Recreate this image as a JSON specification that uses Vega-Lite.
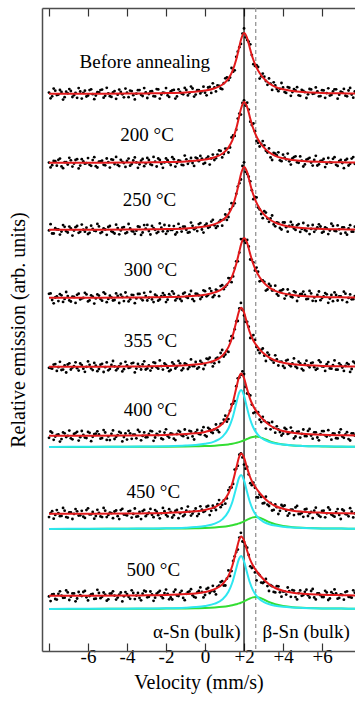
{
"$schema":"https://vega.github.io/schema/vega-lite/v6.json",
"width":313,"height":643,
"autosize":{"type":"none"},
"padding":{"left":42,"top":8,"right":0,"bottom":53},
"config":{"view":{"stroke":null},"font":"Liberation Serif, Times New Roman, Times, DejaVu Serif, serif",
 "axis":{"grid":false,"domainColor":"#4d4d4d","domainWidth":1.5,"tickColor":"#333333","tickWidth":1.2,"labelColor":"#000000","titleColor":"#000000","labelFont":"Liberation Serif, Times New Roman, Times, DejaVu Serif, serif","titleFont":"Liberation Serif, Times New Roman, Times, DejaVu Serif, serif","titleFontWeight":"normal"}},
"datasets":{
"refs":[{"v":2.0,"line":"alpha"},{"v":2.6,"line":"beta"}],
"labels":[{"t":"Before annealing","v":-3.09,"y":58.9},{"t":"200 °C","v":-2.97,"y":51.6},{"t":"250 °C","v":-2.85,"y":45.1},{"t":"300 °C","v":-2.8,"y":38.1},{"t":"355 °C","v":-2.8,"y":31.0},{"t":"400 °C","v":-2.8,"y":24.1},{"t":"450 °C","v":-2.65,"y":15.9},{"t":"500 °C","v":-2.65,"y":8.1},{"t":"α-Sn (bulk)","v":-0.42,"y":1.9},{"t":"β-Sn (bulk)","v":5.19,"y":1.9}],
"pts":[
{"v":-8,"a":55.84,"b":48.84,"c":42.06,"d":35.72,"e":28.32,"f":21.32,"g":13.39,"h":5.46},
{"v":-7.84,"a":55.47,"b":48.58,"c":41.75,"d":35.10,"e":28.23,"f":21.83,"g":13.98,"h":5.67},
{"v":-7.68,"a":56.03,"b":48.98,"c":42.28,"d":35.35,"e":28.69,"f":21.44,"g":13.61,"h":5.20},
{"v":-7.52,"a":55.64,"b":49.12,"c":42.15,"d":34.99,"e":28.38,"f":21.66,"g":13.79,"h":5.72},
{"v":-7.36,"a":55.90,"b":48.46,"c":41.94,"d":35.57,"e":28.10,"f":21.19,"g":13.51,"h":5.53},
{"v":-7.2,"a":55.38,"b":48.89,"c":42.42,"d":35.21,"e":28.56,"f":21.77,"g":14.03,"h":5.33},
{"v":-7.04,"a":55.77,"b":48.64,"c":41.85,"d":35.49,"e":28.65,"f":21.51,"g":13.34,"h":5.86},
{"v":-6.88,"a":56.00,"b":49.07,"c":42.25,"d":34.95,"e":28.15,"f":21.27,"g":13.86,"h":5.43},
{"v":-6.72,"a":55.58,"b":48.74,"c":42.04,"d":35.41,"e":28.49,"f":21.70,"g":13.71,"h":5.76},
{"v":-6.56,"a":55.32,"b":49.18,"c":42.50,"d":35.62,"e":28.28,"f":21.92,"g":13.97,"h":5.25},
{"v":-6.4,"a":55.95,"b":48.54,"c":41.92,"d":35.16,"e":28.75,"f":21.38,"g":13.57,"h":5.59},
{"v":-6.24,"a":55.82,"b":48.96,"c":42.13,"d":35.31,"e":28.23,"f":21.61,"g":13.43,"h":5.90},
{"v":-6.08,"a":55.45,"b":48.79,"c":42.33,"d":35.66,"e":28.42,"f":21.29,"g":14.09,"h":5.37},
{"v":-5.92,"a":56.09,"b":48.62,"c":41.82,"d":35.07,"e":28.62,"f":21.82,"g":13.66,"h":5.50},
{"v":-5.76,"a":55.68,"b":49.09,"c":42.21,"d":35.44,"e":28.09,"f":21.42,"g":13.91,"h":5.71},
{"v":-5.6,"a":55.54,"b":48.48,"c":41.99,"d":35.26,"e":28.53,"f":21.73,"g":13.49,"h":5.23},
{"v":-5.44,"a":55.87,"b":48.93,"c":42.46,"d":35.54,"e":28.20,"f":21.65,"g":13.82,"h":5.80},
{"v":-5.28,"a":56.14,"b":49.03,"c":41.89,"d":35.03,"e":28.72,"f":21.29,"g":13.39,"h":5.42},
{"v":-5.12,"a":55.52,"b":48.57,"c":42.15,"d":35.72,"e":28.38,"f":21.85,"g":14.03,"h":5.63},
{"v":-4.96,"a":55.77,"b":48.88,"c":42.40,"d":35.21,"e":28.07,"f":21.46,"g":13.61,"h":5.17},
{"v":-4.8,"a":55.41,"b":49.16,"c":41.97,"d":35.36,"e":28.60,"f":21.72,"g":13.78,"h":5.75},
{"v":-4.64,"a":55.99,"b":48.70,"c":41.75,"d":35.10,"e":28.47,"f":21.20,"g":13.95,"h":5.54},
{"v":-4.48,"a":55.63,"b":48.61,"c":42.29,"d":35.50,"e":28.26,"f":21.59,"g":13.48,"h":5.34},
{"v":-4.32,"a":55.91,"b":49.12,"c":42.06,"d":35.64,"e":28.74,"f":21.81,"g":14.09,"h":5.85},
{"v":-4.16,"a":55.37,"b":48.79,"c":42.39,"d":34.99,"e":28.18,"f":21.40,"g":13.65,"h":5.47},
{"v":-4,"a":55.83,"b":49.00,"c":41.86,"d":35.42,"e":28.57,"f":21.14,"g":13.56,"h":5.69},
{"v":-3.84,"a":56.04,"b":48.53,"c":42.26,"d":35.17,"e":28.36,"f":21.77,"g":14.02,"h":5.22},
{"v":-3.68,"a":55.58,"b":49.05,"c":41.95,"d":35.59,"e":28.82,"f":21.64,"g":13.71,"h":5.80},
{"v":-3.52,"a":55.73,"b":48.86,"c":42.03,"d":35.26,"e":28.24,"f":21.27,"g":13.43,"h":5.54},
{"v":-3.36,"a":56.09,"b":48.67,"c":42.41,"d":35.71,"e":28.46,"f":21.92,"g":13.90,"h":5.30},
{"v":-3.2,"a":55.50,"b":49.20,"c":41.85,"d":35.07,"e":28.66,"f":21.51,"g":13.99,"h":5.73},
{"v":-3.04,"a":55.87,"b":48.76,"c":42.24,"d":35.49,"e":28.15,"f":21.37,"g":13.48,"h":5.95},
{"v":-2.88,"a":55.70,"b":49.10,"c":41.99,"d":35.33,"e":28.55,"f":21.71,"g":13.83,"h":5.42},
{"v":-2.72,"a":55.98,"b":48.59,"c":42.51,"d":35.16,"e":28.33,"f":21.97,"g":13.62,"h":5.65},
{"v":-2.56,"a":55.46,"b":48.93,"c":42.12,"d":35.63,"e":28.80,"f":21.35,"g":14.09,"h":5.33},
{"v":-2.4,"a":56.16,"b":49.25,"c":41.91,"d":35.03,"e":28.23,"f":21.61,"g":13.58,"h":5.87},
{"v":-2.24,"a":55.65,"b":48.72,"c":42.33,"d":35.48,"e":28.49,"f":21.25,"g":13.77,"h":5.47},
{"v":-2.08,"a":55.81,"b":48.86,"c":42.60,"d":35.58,"e":28.75,"f":21.84,"g":13.98,"h":5.79},
{"v":-1.92,"a":55.56,"b":49.08,"c":41.98,"d":35.13,"e":28.33,"f":21.49,"g":13.46,"h":5.72},
{"v":-1.76,"a":55.96,"b":48.60,"c":42.11,"d":35.44,"e":28.11,"f":21.77,"g":13.90,"h":5.35},
{"v":-1.6,"a":56.11,"b":49.18,"c":42.49,"d":35.73,"e":28.66,"f":21.23,"g":13.58,"h":5.92},
{"v":-1.44,"a":55.46,"b":48.80,"c":41.86,"d":35.28,"e":28.44,"f":21.70,"g":14.10,"h":5.54},
{"v":-1.28,"a":55.90,"b":49.02,"c":42.28,"d":35.20,"e":28.77,"f":21.92,"g":13.77,"h":5.81},
{"v":-1.12,"a":55.67,"b":48.58,"c":42.44,"d":35.73,"e":28.26,"f":21.48,"g":13.48,"h":5.31},
{"v":-0.96,"a":56.10,"b":49.17,"c":42.12,"d":35.40,"e":28.68,"f":21.65,"g":14.03,"h":5.72},
{"v":-0.8,"a":55.79,"b":48.98,"c":41.88,"d":35.63,"e":28.39,"f":22.02,"g":13.92,"h":5.96},
{"v":-0.64,"a":56.25,"b":48.80,"c":42.52,"d":35.18,"e":28.50,"f":21.46,"g":13.74,"h":5.57},
{"v":-0.48,"a":55.64,"b":49.34,"c":42.30,"d":35.73,"e":28.90,"f":21.86,"g":14.25,"h":5.34},
{"v":-0.32,"a":56.09,"b":48.98,"c":42.69,"d":35.57,"e":28.37,"f":21.71,"g":13.71,"h":6.00},
{"v":-0.16,"a":55.96,"b":49.24,"c":42.15,"d":35.41,"e":28.80,"f":22.03,"g":14.14,"h":5.91},
{"v":0,"a":55.83,"b":48.81,"c":42.55,"d":35.98,"e":28.60,"f":21.57,"g":13.99,"h":5.60},
{"v":0.16,"a":56.35,"b":49.44,"c":42.32,"d":35.59,"e":29.18,"f":22.32,"g":14.51,"h":6.30},
{"v":0.32,"a":55.81,"b":49.25,"c":42.94,"d":35.99,"e":28.88,"f":21.90,"g":14.02,"h":5.98},
{"v":0.48,"a":56.35,"b":49.09,"c":42.57,"d":35.57,"e":28.77,"f":22.16,"g":14.34,"h":5.95},
{"v":0.64,"a":56.56,"b":49.64,"c":42.48,"d":36.03,"e":29.33,"f":22.08,"g":14.68,"h":6.42},
{"v":0.8,"a":56.25,"b":50.01,"c":43.09,"d":36.49,"e":29.80,"f":22.70,"g":14.38,"h":6.89},
{"v":0.96,"a":56.78,"b":49.69,"c":43.16,"d":36.18,"e":29.45,"f":23.13,"g":15.05,"h":6.55},
{"v":1.12,"a":57.36,"b":50.22,"c":43.11,"d":36.61,"e":30.01,"f":22.93,"g":15.26,"h":7.23},
{"v":1.28,"a":57.35,"b":50.35,"c":44.15,"d":37.27,"e":31.01,"f":24.02,"g":16.36,"h":7.50},
{"v":1.44,"a":57.93,"b":51.55,"c":44.52,"d":37.46,"e":31.30,"f":24.74,"g":16.71,"h":9.01},
{"v":1.6,"a":59.42,"b":52.13,"c":45.72,"d":38.97,"e":32.96,"f":26.48,"g":18.22,"h":9.90},
{"v":1.76,"a":60.38,"b":53.74,"c":46.78,"d":39.84,"e":34.26,"f":27.36,"g":19.63,"h":11.34},
{"v":1.92,"a":61.74,"b":54.81,"c":48.50,"d":41.18,"e":34.09,"f":27.97,"g":19.36,"h":10.95},
{"v":2.08,"a":61.37,"b":54.54,"c":47.92,"d":40.82,"e":32.92,"f":26.41,"g":18.23,"h":10.50},
{"v":2.24,"a":60.93,"b":54.14,"c":47.43,"d":40.45,"e":32.43,"f":25.68,"g":17.66,"h":9.60},
{"v":2.4,"a":59.59,"b":52.60,"c":46.08,"d":39.12,"e":31.33,"f":24.64,"g":16.58,"h":8.29},
{"v":2.56,"a":58.51,"b":51.98,"c":45.41,"d":38.05,"e":31.11,"f":23.87,"g":16.32,"h":7.86},
{"v":2.72,"a":58.40,"b":50.82,"c":44.34,"d":37.93,"e":30.09,"f":23.88,"g":15.35,"h":7.77},
{"v":2.88,"a":57.47,"b":50.72,"c":43.70,"d":37.06,"e":30.11,"f":22.89,"g":15.41,"h":6.84},
{"v":3.04,"a":57.43,"b":50.57,"c":43.98,"d":36.92,"e":29.53,"f":23.02,"g":14.80,"h":6.91},
{"v":3.2,"a":56.62,"b":49.85,"c":43.24,"d":36.15,"e":29.84,"f":22.84,"g":14.64,"h":6.49},
{"v":3.36,"a":56.73,"b":49.36,"c":43.26,"d":36.51,"e":29.19,"f":22.17,"g":14.82,"h":6.58},
{"v":3.52,"a":56.87,"b":49.82,"c":42.66,"d":36.08,"e":28.83,"f":22.32,"g":14.11,"h":5.91},
{"v":3.68,"a":56.20,"b":49.55,"c":42.85,"d":35.69,"e":29.17,"f":22.47,"g":14.38,"h":6.48},
{"v":3.84,"a":56.22,"b":49.07,"c":42.30,"d":36.02,"e":28.92,"f":21.90,"g":14.02,"h":5.87},
{"v":4,"a":56.35,"b":49.63,"c":42.86,"d":36.16,"e":28.50,"f":21.73,"g":14.47,"h":5.95},
{"v":4.16,"a":55.81,"b":49.16,"c":42.38,"d":35.56,"e":29.04,"f":22.18,"g":14.03,"h":5.64},
{"v":4.32,"a":56.33,"b":48.97,"c":42.50,"d":35.74,"e":28.62,"f":21.79,"g":13.76,"h":5.99},
{"v":4.48,"a":55.89,"b":49.25,"c":42.62,"d":35.37,"e":28.76,"f":21.96,"g":14.14,"h":6.09},
{"v":4.64,"a":56.06,"b":49.47,"c":42.11,"d":35.86,"e":28.44,"f":21.45,"g":14.36,"h":5.39},
{"v":4.8,"a":55.57,"b":48.82,"c":42.69,"d":35.43,"e":28.93,"f":21.94,"g":13.70,"h":5.79},
{"v":4.96,"a":56.12,"b":49.04,"c":42.21,"d":35.71,"e":28.22,"f":21.72,"g":13.81,"h":5.52},
{"v":5.12,"a":55.89,"b":48.66,"c":42.10,"d":35.61,"e":28.71,"f":21.50,"g":14.16,"h":5.92},
{"v":5.28,"a":55.67,"b":49.22,"c":42.54,"d":35.22,"e":28.54,"f":22.01,"g":13.50,"h":5.57},
{"v":5.44,"a":56.16,"b":48.84,"c":42.21,"d":35.76,"e":28.79,"f":21.55,"g":13.90,"h":6.00},
{"v":5.6,"a":55.76,"b":49.11,"c":41.92,"d":35.36,"e":28.38,"f":21.87,"g":14.03,"h":5.35},
{"v":5.76,"a":55.97,"b":48.55,"c":42.37,"d":35.61,"e":28.23,"f":21.35,"g":13.69,"h":5.76},
{"v":5.92,"a":55.49,"b":49.00,"c":42.45,"d":35.08,"e":28.88,"f":21.68,"g":13.42,"h":5.58},
{"v":6.08,"a":56.06,"b":49.20,"c":41.93,"d":35.46,"e":28.44,"f":21.98,"g":14.03,"h":5.40},
{"v":6.24,"a":55.79,"b":48.73,"c":42.26,"d":35.67,"e":28.68,"f":21.44,"g":13.77,"h":5.86},
{"v":6.4,"a":55.54,"b":48.88,"c":42.05,"d":35.25,"e":28.26,"f":21.57,"g":14.13,"h":5.25},
{"v":6.56,"a":55.96,"b":49.22,"c":42.51,"d":34.98,"e":28.58,"f":21.77,"g":13.54,"h":5.69},
{"v":6.72,"a":56.17,"b":48.62,"c":41.98,"d":35.60,"e":28.13,"f":21.28,"g":13.89,"h":5.77},
{"v":6.88,"a":55.63,"b":48.99,"c":42.17,"d":35.47,"e":28.77,"f":21.85,"g":13.61,"h":5.31},
{"v":7.04,"a":55.85,"b":48.80,"c":42.36,"d":35.09,"e":28.34,"f":21.45,"g":14.15,"h":5.61},
{"v":7.2,"a":55.53,"b":49.08,"c":41.83,"d":35.73,"e":28.51,"f":21.66,"g":13.69,"h":5.89},
{"v":7.36,"a":56.05,"b":48.55,"c":42.26,"d":35.31,"e":28.67,"f":21.19,"g":13.47,"h":5.42},
{"v":7.52,"a":55.65,"b":49.24,"c":41.93,"d":35.17,"e":28.20,"f":21.77,"g":13.93,"h":5.33},
{"v":7.68,"a":55.95,"b":48.72,"c":42.43,"d":35.49,"e":28.80,"f":21.55,"g":13.77,"h":5.83},
{"v":-7.92,"a":55.27,"b":48.36,"c":42.68,"d":35.76,"e":28.29,"f":21.95,"g":13.79,"h":4.99},
{"v":-7.76,"a":56.24,"b":49.01,"c":41.75,"d":34.77,"e":28.64,"f":21.12,"g":13.23,"h":5.69},
{"v":-7.6,"a":55.60,"b":48.53,"c":42.16,"d":35.47,"e":28.01,"f":21.62,"g":14.09,"h":5.14},
{"v":-7.44,"a":56.10,"b":49.24,"c":41.64,"d":35.68,"e":28.92,"f":20.94,"g":13.48,"h":5.97},
{"v":-7.28,"a":55.14,"b":48.28,"c":42.59,"d":34.91,"e":28.14,"f":21.86,"g":14.31,"h":5.32},
{"v":-7.12,"a":55.93,"b":48.88,"c":41.98,"d":35.90,"e":27.85,"f":21.39,"g":13.39,"h":6.06},
{"v":-6.96,"a":56.19,"b":49.32,"c":42.44,"d":35.06,"e":28.77,"f":22.04,"g":13.86,"h":5.10},
{"v":-6.8,"a":55.40,"b":48.44,"c":41.54,"d":35.44,"e":28.35,"f":21.17,"g":13.20,"h":5.76},
{"v":-6.64,"a":55.82,"b":49.10,"c":42.38,"d":34.81,"e":28.87,"f":21.79,"g":14.19,"h":4.97},
{"v":-6.48,"a":56.29,"b":48.26,"c":41.82,"d":35.73,"e":28.04,"f":21.04,"g":13.54,"h":5.90},
{"v":-6.32,"a":55.24,"b":49.18,"c":42.64,"d":35.26,"e":28.59,"f":22.00,"g":14.02,"h":5.49},
{"v":-6.16,"a":56.03,"b":48.73,"c":41.93,"d":35.82,"e":27.92,"f":21.34,"g":13.31,"h":6.01},
{"v":-6.0,"a":55.55,"b":49.29,"c":41.70,"d":34.96,"e":28.96,"f":21.91,"g":14.27,"h":5.06},
{"v":-5.84,"a":56.17,"b":48.52,"c":42.53,"d":35.57,"e":28.26,"f":20.98,"g":13.67,"h":5.67},
{"v":-5.68,"a":55.18,"b":49.38,"c":42.03,"d":34.74,"e":28.81,"f":21.69,"g":13.23,"h":5.21},
{"v":-5.52,"a":55.88,"b":48.35,"c":42.71,"d":35.66,"e":27.98,"f":21.97,"g":14.12,"h":6.12},
{"v":-5.36,"a":56.09,"b":48.96,"c":41.79,"d":35.19,"e":28.63,"f":21.23,"g":13.46,"h":5.28},
{"v":-5.2,"a":55.33,"b":48.62,"c":42.27,"d":35.87,"e":27.90,"f":22.09,"g":14.31,"h":5.85},
{"v":-5.04,"a":56.32,"b":49.25,"c":41.62,"d":34.88,"e":28.86,"f":21.11,"g":13.39,"h":5.03},
{"v":-4.88,"a":55.48,"b":48.34,"c":42.50,"d":35.53,"e":28.21,"f":21.09,"g":13.84,"h":5.74},
{"v":-4.72,"a":55.85,"b":49.12,"c":41.88,"d":35.05,"e":29.00,"f":22.06,"g":13.28,"h":5.97},
{"v":-4.56,"a":55.22,"b":49.41,"c":42.63,"d":35.76,"e":28.07,"f":21.42,"g":14.05,"h":5.14},
{"v":-4.4,"a":56.14,"b":48.49,"c":41.67,"d":34.80,"e":28.48,"f":21.92,"g":13.19,"h":5.64},
{"v":-4.24,"a":55.67,"b":48.92,"c":42.33,"d":35.40,"e":27.96,"f":20.96,"g":14.22,"h":4.96},
{"v":-4.08,"a":56.24,"b":48.41,"c":41.77,"d":35.85,"e":28.92,"f":21.76,"g":13.62,"h":5.89},
{"v":-3.92,"a":55.38,"b":49.24,"c":42.70,"d":34.96,"e":28.31,"f":22.02,"g":13.97,"h":5.42},
{"v":-3.76,"a":55.99,"b":48.69,"c":41.99,"d":35.62,"e":28.77,"f":21.22,"g":13.34,"h":6.07},
{"v":-3.6,"a":55.16,"b":49.36,"c":41.71,"d":34.78,"e":27.86,"f":21.64,"g":14.25,"h":5.19},
{"v":-3.44,"a":56.08,"b":48.32,"c":42.45,"d":35.70,"e":28.70,"f":22.11,"g":13.47,"h":5.81},
{"v":-3.28,"a":55.62,"b":49.03,"c":41.61,"d":35.26,"e":28.15,"f":21.07,"g":13.19,"h":5.07},
{"v":-3.12,"a":56.29,"b":48.48,"c":42.59,"d":35.82,"e":28.97,"f":21.86,"g":14.11,"h":6.03},
{"v":-2.96,"a":55.30,"b":49.31,"c":42.61,"d":35.05,"e":28.26,"f":21.38,"g":13.68,"h":5.37},
{"v":-2.8,"a":55.96,"b":48.67,"c":41.65,"d":35.92,"e":28.04,"f":22.01,"g":14.21,"h":5.95},
{"v":-2.64,"a":55.48,"b":49.41,"c":42.29,"d":34.89,"e":28.87,"f":21.02,"g":13.38,"h":5.02},
{"v":-2.48,"a":56.19,"b":48.45,"c":41.79,"d":35.50,"e":28.37,"f":21.72,"g":13.93,"h":5.73},
{"v":-2.32,"a":55.24,"b":49.11,"c":42.76,"d":35.16,"e":29.06,"f":21.94,"g":13.27,"h":6.02},
{"v":-2.16,"a":55.84,"b":48.32,"c":41.97,"d":35.79,"e":28.14,"f":21.17,"g":14.31,"h":5.28},
{"v":-2.0,"a":56.29,"b":49.26,"c":41.72,"d":34.89,"e":28.62,"f":22.17,"g":13.62,"h":6.14},
{"v":-1.84,"a":55.41,"b":48.86,"c":42.53,"d":35.68,"e":27.98,"f":21.34,"g":14.18,"h":5.17},
{"v":-1.68,"a":56.07,"b":49.38,"c":42.11,"d":35.97,"e":28.86,"f":21.71,"g":13.35,"h":5.15},
{"v":-1.52,"a":55.24,"b":48.44,"c":41.65,"d":35.06,"e":28.25,"f":21.09,"g":14.01,"h":6.13},
{"v":-1.36,"a":56.17,"b":49.06,"c":42.71,"d":35.50,"e":29.01,"f":22.02,"g":13.28,"h":5.50},
{"v":-1.2,"a":55.74,"b":48.62,"c":41.94,"d":35.00,"e":28.07,"f":21.57,"g":14.26,"h":6.02},
{"v":-1.04,"a":56.31,"b":49.54,"c":42.43,"d":35.84,"e":28.75,"f":22.15,"g":13.63,"h":5.08},
{"v":-0.88,"a":55.56,"b":48.72,"c":41.83,"d":35.31,"e":28.20,"f":21.31,"g":14.44,"h":5.89},
{"v":-0.72,"a":56.44,"b":49.30,"c":42.84,"d":36.00,"e":29.16,"f":21.95,"g":13.54,"h":6.18},
{"v":-0.56,"a":55.44,"b":48.51,"c":42.17,"d":34.99,"e":28.48,"f":21.15,"g":13.98,"h":5.41},
{"v":-0.4,"a":56.08,"b":49.25,"c":41.99,"d":35.72,"e":28.23,"f":22.10,"g":13.49,"h":5.86},
{"v":-0.24,"a":55.76,"b":49.51,"c":42.79,"d":35.20,"e":29.00,"f":21.66,"g":14.47,"h":6.36},
{"v":-0.08,"a":56.43,"b":48.72,"c":41.84,"d":36.07,"e":28.20,"f":22.38,"g":13.91,"h":5.36},
{"v":0.08,"a":55.57,"b":49.27,"c":42.73,"d":35.47,"e":29.24,"f":21.45,"g":14.43,"h":6.21},
{"v":0.24,"a":56.40,"b":48.64,"c":42.41,"d":36.26,"e":29.33,"f":22.18,"g":13.59,"h":5.80},
{"v":0.4,"a":56.77,"b":49.64,"c":43.12,"d":35.38,"e":28.46,"f":21.80,"g":14.53,"h":6.52},
{"v":0.56,"a":55.96,"b":49.28,"c":42.31,"d":36.14,"e":29.23,"f":22.65,"g":14.10,"h":5.66},
{"v":0.72,"a":56.52,"b":50.06,"c":42.91,"d":35.48,"e":28.90,"f":21.88,"g":15.09,"h":6.53},
{"v":0.88,"a":56.18,"b":49.36,"c":42.53,"d":36.58,"e":30.10,"f":22.74,"g":14.62,"h":6.98},
{"v":1.04,"a":57.27,"b":50.24,"c":43.65,"d":36.42,"e":29.65,"f":23.53,"g":14.73,"h":6.55},
{"v":1.2,"a":57.08,"b":49.85,"c":43.40,"d":37.29,"e":29.91,"f":23.19,"g":16.08,"h":8.06},
{"v":1.36,"a":58.30,"b":51.36,"c":44.78,"d":36.88,"e":31.48,"f":24.66,"g":16.35,"h":7.99},
{"v":1.52,"a":58.07,"b":51.51,"c":44.77,"d":38.29,"e":32.17,"f":24.98,"g":18.14,"h":9.47},
{"v":1.68,"a":59.93,"b":53.24,"c":46.44,"d":38.97,"e":33.00,"f":27.27,"g":18.52,"h":10.14},
{"v":1.84,"a":60.71,"b":53.64,"c":47.15,"d":41.19,"e":34.81,"f":27.62,"g":19.75,"h":11.82},
{"v":2.0,"a":62.26,"b":55.07,"c":48.87,"d":41.06,"e":33.56,"f":27.69,"g":18.64,"h":10.89},
{"v":2.16,"a":61.09,"b":54.83,"c":47.69,"d":41.11,"e":32.92,"f":25.75,"g":18.40,"h":10.33},
{"v":2.32,"a":60.67,"b":52.93,"c":46.97,"d":39.15,"e":31.30,"f":25.56,"g":16.78,"h":8.47},
{"v":2.48,"a":58.68,"b":52.75,"c":45.18,"d":38.85,"e":31.59,"f":23.79,"g":16.83,"h":8.38},
{"v":2.64,"a":58.58,"b":51.02,"c":45.36,"d":38.34,"e":30.40,"f":23.89,"g":15.38,"h":7.06},
{"v":2.8,"a":57.24,"b":50.45,"c":44.16,"d":36.97,"e":29.80,"f":23.13,"g":15.65,"h":7.59},
{"v":2.96,"a":57.74,"b":50.99,"c":43.28,"d":37.05,"e":30.25,"f":23.42,"g":14.76,"h":6.80},
{"v":3.12,"a":57.00,"b":50.02,"c":43.84,"d":36.04,"e":29.00,"f":22.24,"g":15.43,"h":7.21},
{"v":3.28,"a":57.26,"b":50.26,"c":42.92,"d":36.71,"e":29.62,"f":22.79,"g":14.50,"h":6.00},
{"v":3.44,"a":56.11,"b":49.10,"c":43.55,"d":36.04,"e":29.08,"f":22.90,"g":14.05,"h":6.48},
{"v":3.6,"a":56.56,"b":49.73,"c":42.47,"d":36.53,"e":29.57,"f":21.83,"g":14.65,"h":5.86},
{"v":3.76,"a":55.98,"b":49.87,"c":42.80,"d":35.53,"e":28.55,"f":22.16,"g":13.70,"h":6.47},
{"v":3.92,"a":56.80,"b":48.98,"c":42.15,"d":36.06,"e":28.94,"f":21.55,"g":14.60,"h":5.43},
{"v":4.08,"a":55.89,"b":49.33,"c":42.85,"d":35.24,"e":28.31,"f":22.31,"g":14.55,"h":5.96},
{"v":4.24,"a":56.39,"b":49.74,"c":41.93,"d":36.15,"e":29.12,"f":21.71,"g":13.53,"h":6.35},
{"v":4.4,"a":55.52,"b":48.64,"c":42.91,"d":35.44,"e":28.47,"f":22.34,"g":14.13,"h":5.42},
{"v":4.56,"a":56.19,"b":49.39,"c":42.26,"d":35.97,"e":29.26,"f":21.26,"g":13.59,"h":6.04},
{"v":4.72,"a":56.38,"b":48.87,"c":42.57,"d":35.00,"e":28.30,"f":21.92,"g":14.51,"h":5.16},
{"v":4.88,"a":55.52,"b":49.46,"c":41.91,"d":35.68,"e":28.75,"f":21.34,"g":13.70,"h":6.06},
{"v":5.04,"a":56.00,"b":48.45,"c":42.80,"d":35.94,"e":28.06,"f":22.15,"g":13.42,"h":5.59},
{"v":5.2,"a":55.30,"b":49.13,"c":42.00,"d":35.18,"e":29.03,"f":21.48,"g":14.20,"h":6.13},
{"v":5.36,"a":56.20,"b":49.32,"c":41.69,"d":36.01,"e":28.37,"f":22.20,"g":13.77,"h":5.35},
{"v":5.52,"a":55.72,"b":48.54,"c":42.60,"d":35.02,"e":28.84,"f":21.23,"g":13.29,"h":6.20},
{"v":5.68,"a":56.36,"b":49.52,"c":42.16,"d":34.99,"e":28.12,"f":21.87,"g":14.33,"h":5.16},
{"v":5.84,"a":55.47,"b":48.67,"c":42.67,"d":35.95,"e":29.07,"f":21.07,"g":13.53,"h":5.76},
{"v":6.0,"a":56.08,"b":49.03,"c":41.83,"d":35.30,"e":28.46,"f":21.99,"g":14.00,"h":5.40},
{"v":6.16,"a":55.32,"b":48.39,"c":42.37,"d":35.79,"e":28.01,"f":21.57,"g":13.37,"h":6.02},
{"v":6.32,"a":56.27,"b":49.30,"c":41.69,"d":34.82,"e":28.89,"f":22.08,"g":14.35,"h":5.10},
{"v":6.48,"a":55.61,"b":48.83,"c":42.73,"d":35.61,"e":28.23,"f":21.13,"g":13.65,"h":5.88},
{"v":6.64,"a":56.17,"b":49.38,"c":42.02,"d":35.86,"e":29.06,"f":21.73,"g":13.43,"h":6.16},
{"v":6.8,"a":55.23,"b":48.51,"c":42.56,"d":35.05,"e":28.13,"f":21.26,"g":14.19,"h":5.23},
{"v":6.96,"a":55.94,"b":49.12,"c":41.73,"d":35.47,"e":28.58,"f":22.17,"g":13.20,"h":5.66},
{"v":7.12,"a":56.21,"b":48.28,"c":42.37,"d":35.93,"e":28.01,"f":21.32,"g":14.03,"h":5.13},
{"v":7.28,"a":55.47,"b":49.20,"c":41.63,"d":34.88,"e":28.78,"f":21.88,"g":13.66,"h":5.96},
{"v":7.44,"a":56.31,"b":48.72,"c":42.58,"d":35.66,"e":27.91,"f":21.05,"g":14.28,"h":5.40},
{"v":7.6,"a":55.33,"b":49.39,"c":41.93,"d":35.18,"e":28.94,"f":21.76,"g":13.36,"h":6.07}
],
"fit":[
{"v":-8,"r1":55.72,"r2":48.82,"r3":42.12,"r4":35.32,"r5":28.42,"r6":21.52,"r7":13.72,"r8":5.52,"c6":20.41,"c7":12.21,"c8":4.21,"g6":20.41,"g7":12.21,"g8":4.21},
{"v":-6,"r1":55.73,"r2":48.83,"r3":42.13,"r4":35.33,"r5":28.43,"r6":21.53,"r7":13.73,"r8":5.53,"c6":20.42,"c7":12.22,"c8":4.22,"g6":20.41,"g7":12.21,"g8":4.21},
{"v":-4,"r1":55.74,"r2":48.84,"r3":42.14,"r4":35.34,"r5":28.44,"r6":21.55,"r7":13.75,"r8":5.55,"c6":20.43,"c7":12.23,"c8":4.23,"g6":20.42,"g7":12.22,"g8":4.22},
{"v":-3,"r1":55.76,"r2":48.86,"r3":42.16,"r4":35.36,"r5":28.46,"r6":21.57,"r7":13.77,"r8":5.57,"c6":20.45,"c7":12.25,"c8":4.25,"g6":20.42,"g7":12.22,"g8":4.22},
{"v":-2,"r1":55.79,"r2":48.89,"r3":42.19,"r4":35.39,"r5":28.50,"r6":21.61,"r7":13.81,"r8":5.61,"c6":20.48,"c7":12.27,"c8":4.27,"g6":20.43,"g7":12.24,"g8":4.24},
{"v":-1,"r1":55.86,"r2":48.96,"r3":42.26,"r4":35.46,"r5":28.57,"r6":21.69,"r7":13.89,"r8":5.69,"c6":20.54,"c7":12.33,"c8":4.33,"g6":20.45,"g7":12.26,"g8":4.26},
{"v":-0.5,"r1":55.93,"r2":49.03,"r3":42.33,"r4":35.52,"r5":28.64,"r6":21.77,"r7":13.97,"r8":5.76,"c6":20.60,"c7":12.39,"c8":4.39,"g6":20.47,"g7":12.28,"g8":4.28},
{"v":0,"r1":56.04,"r2":49.14,"r3":42.45,"r4":35.63,"r5":28.78,"r6":21.91,"r7":14.11,"r8":5.90,"c6":20.72,"c7":12.50,"c8":4.50,"g6":20.49,"g7":12.30,"g8":4.30},
{"v":0.5,"r1":56.27,"r2":49.37,"r3":42.69,"r4":35.86,"r5":29.05,"r6":22.20,"r7":14.39,"r8":6.18,"c6":20.97,"c7":12.74,"c8":4.73,"g6":20.53,"g7":12.35,"g8":4.35},
{"v":0.9,"r1":56.65,"r2":49.75,"r3":43.08,"r4":36.23,"r5":29.55,"r6":22.73,"r7":14.91,"r8":6.69,"c6":21.44,"c7":13.19,"c8":5.17,"g6":20.59,"g7":12.42,"g8":4.42},
{"v":1.2,"r1":57.24,"r2":50.34,"r3":43.69,"r4":36.82,"r5":30.38,"r6":23.61,"r7":15.75,"r8":7.51,"c6":22.25,"c7":13.95,"c8":5.92,"g6":20.66,"g7":12.50,"g8":4.50},
{"v":1.4,"r1":57.96,"r2":51.06,"r3":44.43,"r4":37.52,"r5":31.40,"r6":24.67,"r7":16.77,"r8":8.52,"c6":23.25,"c7":14.90,"c8":6.85,"g6":20.72,"g7":12.57,"g8":4.57},
{"v":1.6,"r1":59.14,"r2":52.24,"r3":45.65,"r4":38.69,"r5":32.91,"r6":26.27,"r7":18.29,"r8":10.02,"c6":24.76,"c7":16.33,"c8":8.25,"g6":20.81,"g7":12.67,"g8":4.67},
{"v":1.75,"r1":60.35,"r2":53.45,"r3":46.90,"r4":39.88,"r5":34.02,"r6":27.43,"r7":19.41,"r8":11.12,"c6":25.83,"c7":17.35,"c8":9.25,"g6":20.89,"g7":12.76,"g8":4.76},
{"v":1.85,"r1":61.17,"r2":54.27,"r3":47.75,"r4":40.68,"r5":34.33,"r6":27.76,"r7":19.74,"r8":11.44,"c6":26.10,"c7":17.60,"c8":9.50,"g6":20.96,"g7":12.84,"g8":4.84},
{"v":2.0,"r1":61.81,"r2":54.91,"r3":48.41,"r4":41.31,"r5":33.86,"r6":27.30,"r7":19.33,"r8":11.04,"c6":25.53,"c7":17.06,"c8":8.97,"g6":21.07,"g7":12.97,"g8":4.97},
{"v":2.15,"r1":61.35,"r2":54.45,"r3":47.93,"r4":40.86,"r5":32.81,"r6":26.24,"r7":18.35,"r8":10.08,"c6":24.34,"c7":15.94,"c8":7.87,"g6":21.20,"g7":13.11,"g8":5.11},
{"v":2.3,"r1":60.28,"r2":53.38,"r3":46.82,"r4":39.81,"r5":31.85,"r6":25.27,"r7":17.45,"r8":9.20,"c6":23.25,"c7":14.90,"c8":6.85,"g6":21.32,"g7":13.25,"g8":5.25},
{"v":2.45,"r1":59.27,"r2":52.37,"r3":45.77,"r4":38.82,"r5":31.15,"r6":24.57,"r7":16.80,"r8":8.57,"c6":22.45,"c7":14.14,"c8":6.11,"g6":21.41,"g7":13.36,"g8":5.36},
{"v":2.6,"r1":58.52,"r2":51.62,"r3":44.99,"r4":38.08,"r5":30.66,"r6":24.06,"r7":16.33,"r8":8.11,"c6":21.91,"c7":13.63,"c8":5.61,"g6":21.45,"g7":13.40,"g8":5.40},
{"v":2.8,"r1":57.80,"r2":50.90,"r3":44.25,"r4":37.38,"r5":30.16,"r6":23.53,"r7":15.82,"r8":7.60,"c6":21.44,"c7":13.19,"c8":5.17,"g6":21.39,"g7":13.33,"g8":5.33},
{"v":3.0,"r1":57.28,"r2":50.38,"r3":43.71,"r4":36.86,"r5":29.77,"r6":23.10,"r7":15.38,"r8":7.17,"c6":21.16,"c7":12.92,"c8":4.91,"g6":21.24,"g7":13.16,"g8":5.16},
{"v":3.3,"r1":56.75,"r2":49.85,"r3":43.17,"r4":36.34,"r5":29.34,"r6":22.60,"r7":14.85,"r8":6.65,"c6":20.90,"c7":12.68,"c8":4.67,"g6":20.99,"g7":12.88,"g8":4.88},
{"v":3.6,"r1":56.42,"r2":49.52,"r3":42.83,"r4":36.01,"r5":29.05,"r6":22.26,"r7":14.50,"r8":6.30,"c6":20.75,"c7":12.54,"c8":4.53,"g6":20.81,"g7":12.67,"g8":4.67},
{"v":4.0,"r1":56.17,"r2":49.27,"r3":42.58,"r4":35.76,"r5":28.83,"r6":22.00,"r7":14.22,"r8":6.02,"c6":20.64,"c7":12.43,"c8":4.42,"g6":20.66,"g7":12.50,"g8":4.50},
{"v":4.5,"r1":56.00,"r2":49.10,"r3":42.40,"r4":35.59,"r5":28.67,"r6":21.82,"r7":14.03,"r8":5.83,"c6":20.56,"c7":12.35,"c8":4.35,"g6":20.56,"g7":12.38,"g8":4.38},
{"v":5.0,"r1":55.90,"r2":49.00,"r3":42.30,"r4":35.50,"r5":28.59,"r6":21.72,"r7":13.93,"r8":5.73,"c6":20.51,"c7":12.31,"c8":4.31,"g6":20.51,"g7":12.32,"g8":4.32},
{"v":6.0,"r1":55.81,"r2":48.91,"r3":42.21,"r4":35.41,"r5":28.51,"r6":21.62,"r7":13.83,"r8":5.62,"c6":20.47,"c7":12.26,"c8":4.26,"g6":20.46,"g7":12.26,"g8":4.26},
{"v":7.0,"r1":55.77,"r2":48.87,"r3":42.17,"r4":35.37,"r5":28.47,"r6":21.58,"r7":13.78,"r8":5.58,"c6":20.44,"c7":12.24,"c8":4.24,"g6":20.43,"g7":12.24,"g8":4.24},
{"v":7.7,"r1":55.75,"r2":48.85,"r3":42.15,"r4":35.35,"r5":28.45,"r6":21.56,"r7":13.76,"r8":5.56,"c6":20.43,"c7":12.23,"c8":4.23,"g6":20.43,"g7":12.23,"g8":4.23}
]
},
"layer":[
{"data":{"name":"refs"},
 "mark":{"type":"rule","strokeWidth":1.2},
 "encoding":{
  "x":{"field":"v","type":"quantitative","scale":{"domain":[-8.36,7.69],"nice":false,"zero":false},
   "axis":{"orient":"top","values":[-8,-6,-4,-2,0,2,4,6],"labels":false,"title":null,"tickSize":-8}},
  "color":{"field":"line","type":"nominal","scale":{"domain":["alpha","beta"],"range":["#000000","#8c8c8c"]},"legend":null},
  "strokeDash":{"field":"line","type":"nominal","scale":{"domain":["alpha","beta"],"range":[[1,0],[4,3]]},"legend":null}}},
{"data":{"name":"pts"},
 "transform":[{"fold":["a","b","c","d","e","f","g","h"],"as":["s","y"]}],
 "mark":{"type":"circle","size":8,"color":"#000000","opacity":1,"clip":true},
 "encoding":{
  "x":{"field":"v","type":"quantitative","scale":{"domain":[-8.36,7.69],"nice":false,"zero":false},
   "axis":{"orient":"bottom","values":[-8,-6,-4,-2,0,2,4,6],"format":"d","tickSize":-8,"labelPadding":4,"labelFontSize":19,"labelExpr":"datum.value == -8 ? '' : (datum.value > 0 ? '+' + datum.value : '' + datum.value)","title":"Velocity (mm/s)","titleFontSize":20,"titlePadding":6}},
  "y":{"field":"y","type":"quantitative","scale":{"domain":[0,64.3],"nice":false,"zero":false},
   "axis":{"orient":"left","ticks":false,"labels":false,"title":"Relative emission (arb. units)","titleFontSize":20,"titlePadding":14}}}},
{"data":{"name":"fit"},
 "transform":[{"fold":["g6","g7","g8"],"as":["id","y"]}],
 "mark":{"type":"line","interpolate":"monotone","color":"#33dd33","strokeWidth":2,"clip":true},
 "encoding":{
  "x":{"field":"v","type":"quantitative","scale":{"domain":[-8.36,7.69],"nice":false,"zero":false},"axis":null},
  "y":{"field":"y","type":"quantitative","scale":{"domain":[0,64.3],"nice":false,"zero":false},"axis":null},
  "detail":{"field":"id","type":"nominal"}}},
{"data":{"name":"fit"},
 "transform":[{"fold":["c6","c7","c8"],"as":["id","y"]}],
 "mark":{"type":"line","interpolate":"monotone","color":"#2ee6f0","strokeWidth":2,"clip":true},
 "encoding":{
  "x":{"field":"v","type":"quantitative","scale":{"domain":[-8.36,7.69],"nice":false,"zero":false},"axis":null},
  "y":{"field":"y","type":"quantitative","scale":{"domain":[0,64.3],"nice":false,"zero":false},"axis":null},
  "detail":{"field":"id","type":"nominal"}}},
{"data":{"name":"fit"},
 "transform":[{"fold":["r1","r2","r3","r4","r5","r6","r7","r8"],"as":["id","y"]}],
 "mark":{"type":"line","interpolate":"monotone","color":"#e31a1c","strokeWidth":2,"clip":true},
 "encoding":{
  "x":{"field":"v","type":"quantitative","scale":{"domain":[-8.36,7.69],"nice":false,"zero":false},"axis":null},
  "y":{"field":"y","type":"quantitative","scale":{"domain":[0,64.3],"nice":false,"zero":false},"axis":null},
  "detail":{"field":"id","type":"nominal"}}},
{"data":{"name":"labels"},
 "mark":{"type":"text","font":"Liberation Serif, Times New Roman, Times, DejaVu Serif, serif","fontSize":19,"color":"#000000","baseline":"middle","align":"center"},
 "encoding":{
  "x":{"field":"v","type":"quantitative","scale":{"domain":[-8.36,7.69],"nice":false,"zero":false},"axis":null},
  "y":{"field":"y","type":"quantitative","scale":{"domain":[0,64.3],"nice":false,"zero":false},"axis":null},
  "text":{"field":"t","type":"nominal"}}}
],
"resolve":{"axis":{"x":"independent","y":"independent"}}
}
